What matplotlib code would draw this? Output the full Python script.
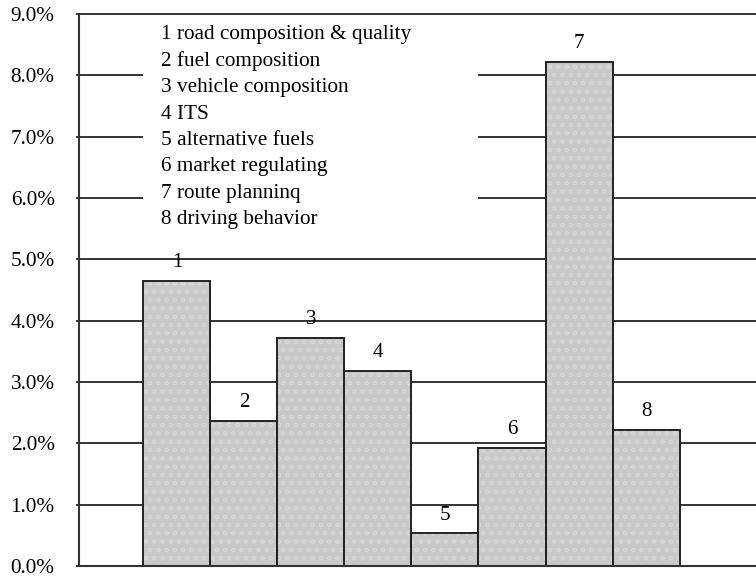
import matplotlib
matplotlib.use("Agg")
import matplotlib.pyplot as plt
from matplotlib.patches import Rectangle
from matplotlib.ticker import FuncFormatter

# ---- data ----
categories = ["1", "2", "3", "4", "5", "6", "7", "8"]
values = [4.65, 2.37, 3.72, 3.18, 0.53, 1.93, 8.22, 2.22]  # percent
legend_lines = [
    "1 road composition & quality",
    "2 fuel composition",
    "3 vehicle composition",
    "4 ITS",
    "5 alternative fuels",
    "6 market regulating",
    "7 route planninq",
    "8 driving behavior",
]
yticks = [0, 1, 2, 3, 4, 5, 6, 7, 8, 9]

plt.rcParams["font.family"] = ["Liberation Serif", "DejaVu Serif"]
plt.rcParams["hatch.linewidth"] = 0.5

fig = plt.figure(figsize=(7.56, 5.8), dpi=100)
ax = fig.add_axes([79 / 756, 14 / 580, 677 / 756, 552 / 580])

x = list(range(1, len(values) + 1))
grid_c = "#333333"

for yv in yticks[1:]:
    ax.axhline(yv, color=grid_c, lw=1.4, zorder=1, clip_on=False)

# white box behind the text list
ax.add_patch(Rectangle((0.5, 5.45), 5.0, 3.5, facecolor="white",
                       edgecolor="none", zorder=2))

ax.bar(x, values, width=1.0, color="#c9c9c9", edgecolor="#d8d8d8",
       hatch="oo", linewidth=0, zorder=3)
ax.bar(x, values, width=1.0, fill=False, edgecolor="#222222",
       linewidth=1.4, zorder=4)

for xi, v, lab in zip(x, values, categories):
    ax.annotate(lab, (xi, v), xytext=(0, 13), textcoords="offset points",
                ha="center", va="center", fontsize=15, zorder=5)

for i, line in enumerate(legend_lines):
    ypix = 35 + 26.4 * i
    ax.text((161 - 79) / 677, (566 - ypix) / 552, line, transform=ax.transAxes,
            ha="left", va="center", fontsize=15.3, zorder=6)

ax.set_xlim(-0.46, 9.64)
ax.set_ylim(0, 9)
ax.set_yticks(yticks)
ax.yaxis.set_major_formatter(FuncFormatter(lambda v, p: f"{v:.1f}%"))
ax.set_xticks([])
ax.tick_params(axis="y", length=2, width=1.4, pad=15.5, labelsize=15.3,
               color=grid_c)

for s in ["top", "right"]:
    ax.spines[s].set_visible(False)
ax.spines["left"].set_color(grid_c)
ax.spines["left"].set_linewidth(1.5)
ax.spines["bottom"].set_color(grid_c)
ax.spines["bottom"].set_linewidth(1.5)
ax.spines["left"].set_zorder(6)
ax.spines["bottom"].set_zorder(6)

fig.savefig("out.png", dpi=100)
